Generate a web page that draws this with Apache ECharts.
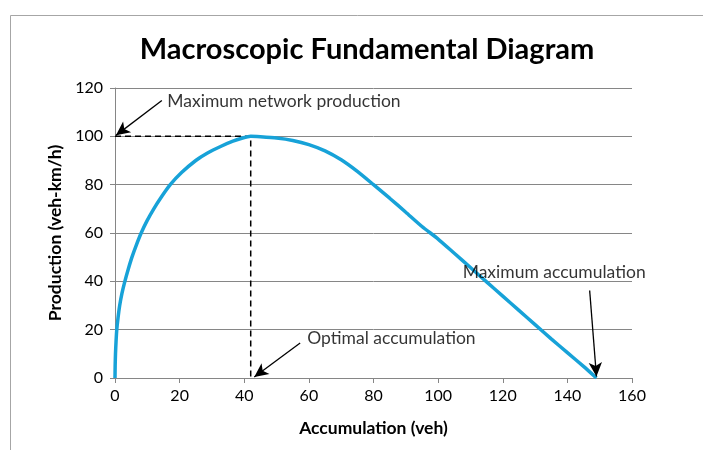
<!DOCTYPE html>
<html>
<head>
<meta charset="utf-8">
<script src="https://cdn.jsdelivr.net/npm/echarts@6/dist/echarts.min.js"></script>
<style>
  html, body { margin: 0; padding: 0; background: #fff; }
  #chart { width: 703px; height: 450px; }
</style>
</head>
<body>
<div id="chart"></div>
<script>
// accumulation (veh) vs production (veh-km/h)
const accumulation = [
  0, 0.05, 0.15, 0.32, 0.55, 0.95, 1.45, 2.15, 3.05, 4.1, 5.25, 6.6, 8.1, 9.9, 12.0, 14.4, 17.1, 20.6, 25.0, 28.5, 33.0, 36.5, 39.5, 42,
  45, 50, 55, 60, 65, 70, 75, 80, 85, 90, 95, 100, 105, 110, 115, 120, 125, 130, 135, 140, 145, 149
];
const production = [
  0, 5, 10, 15, 20, 25, 30, 35, 40, 45, 50, 55, 60, 65, 70, 75, 80, 85, 90, 93, 96, 98, 99.3, 100,
  99.8, 99.3, 98.3, 96.6, 94.0, 90.3, 85.5, 80.0, 74.4, 68.6, 62.7, 57.5, 51.6, 45.7, 39.8, 33.9, 28.0, 22.1, 16.2, 10.5, 4.8, 0
];

const optimalAccumulation = 42;
const maxProduction = 100;

// annotation arrows: [from, to] in data units
const arrows = [
  [[14.5, 114.8], [0.3, 100.4]],
  [[57.3, 14.5], [43.1, 0.4]],
  [[146.9, 36.2], [149, 0.6]]
];
const annotations = [
  { text: "Maximum network production", at: [16.2, 114.5] },
  { text: "Optimal accumulation", at: [59.5, 16.4] },
  { text: "Maximum accumulation", at: [107.6, 43.9] }
];

const font = "Lato, 'Open Sans', sans-serif";
const chart = echarts.init(document.getElementById("chart"), null, { renderer: "canvas" });

const curve = accumulation.map((x, i) => [x, production[i]]);

const option = {
  animation: false,
  textStyle: { fontFamily: font },
  graphic: [
    {
      type: "rect",
      shape: { x: 10.5, y: 15.5, width: 900, height: 600 },
      style: { fill: "none", stroke: "#a6a6a6", lineWidth: 1 },
      silent: true
    }
  ],
  title: {
    text: "Macroscopic Fundamental Diagram",
    left: 362,
    top: 30,
    textAlign: "center",
    textStyle: { fontFamily: font, fontWeight: "bold", fontSize: 29, color: "#000" }
  },
  grid: { left: 115, right: 71, top: 88, bottom: 72 },
  xAxis: {
    type: "value",
    min: 0,
    max: 160,
    interval: 20,
    name: "Accumulation (veh)",
    nameLocation: "middle",
    nameGap: 41,
    nameTextStyle: { fontFamily: font, fontWeight: "bold", fontSize: 17.5, color: "#000" },
    axisLine: { show: true, onZero: false, lineStyle: { color: "#868686" } },
    axisTick: { show: true, length: 5, lineStyle: { color: "#868686" } },
    axisLabel: { fontSize: 16, color: "#000", margin: 10 },
    splitLine: { show: false }
  },
  yAxis: {
    type: "value",
    min: 0,
    max: 120,
    interval: 20,
    name: "Production (veh-km/h)",
    nameLocation: "middle",
    nameGap: 50,
    nameTextStyle: { fontFamily: font, fontWeight: "bold", fontSize: 17.5, color: "#000" },
    axisLine: { show: true, lineStyle: { color: "#868686" } },
    axisTick: { show: true, length: 5, lineStyle: { color: "#868686" } },
    axisLabel: { fontSize: 16, color: "#000", margin: 12 },
    splitLine: { show: true, lineStyle: { color: "#868686", width: 1 } }
  },
  series: [
    {
      type: "line",
      data: curve,
      smooth: 0.2,
      showSymbol: false,
      lineStyle: { color: "#17a2d8", width: 3.5 },
      z: 3
    },
    {
      type: "line",
      data: [[0, maxProduction], [optimalAccumulation, maxProduction], [optimalAccumulation, 0]],
      showSymbol: false,
      lineStyle: { color: "#000", width: 1.5, type: [6, 4] },
      z: 2
    },
    {
      type: "line",
      data: [],
      markLine: {
        silent: true,
        symbol: ["none", "arrow"],
        symbolSize: [10, 14],
        label: { show: false },
        lineStyle: { color: "#000", width: 1.3, type: "solid" },
        data: arrows.map(a => [{ coord: a[0] }, { coord: a[1] }])
      },
      z: 4
    },
    {
      type: "scatter",
      data: annotations.map(a => ({ value: a.at, name: a.text })),
      symbolSize: 0,
      label: {
        show: true,
        position: "right",
        distance: 0,
        formatter: p => p.name,
        fontFamily: font,
        fontSize: 17.5,
        color: "#000"
      },
      z: 5
    }
  ]
};

chart.setOption(option);
</script>
</body>
</html>
